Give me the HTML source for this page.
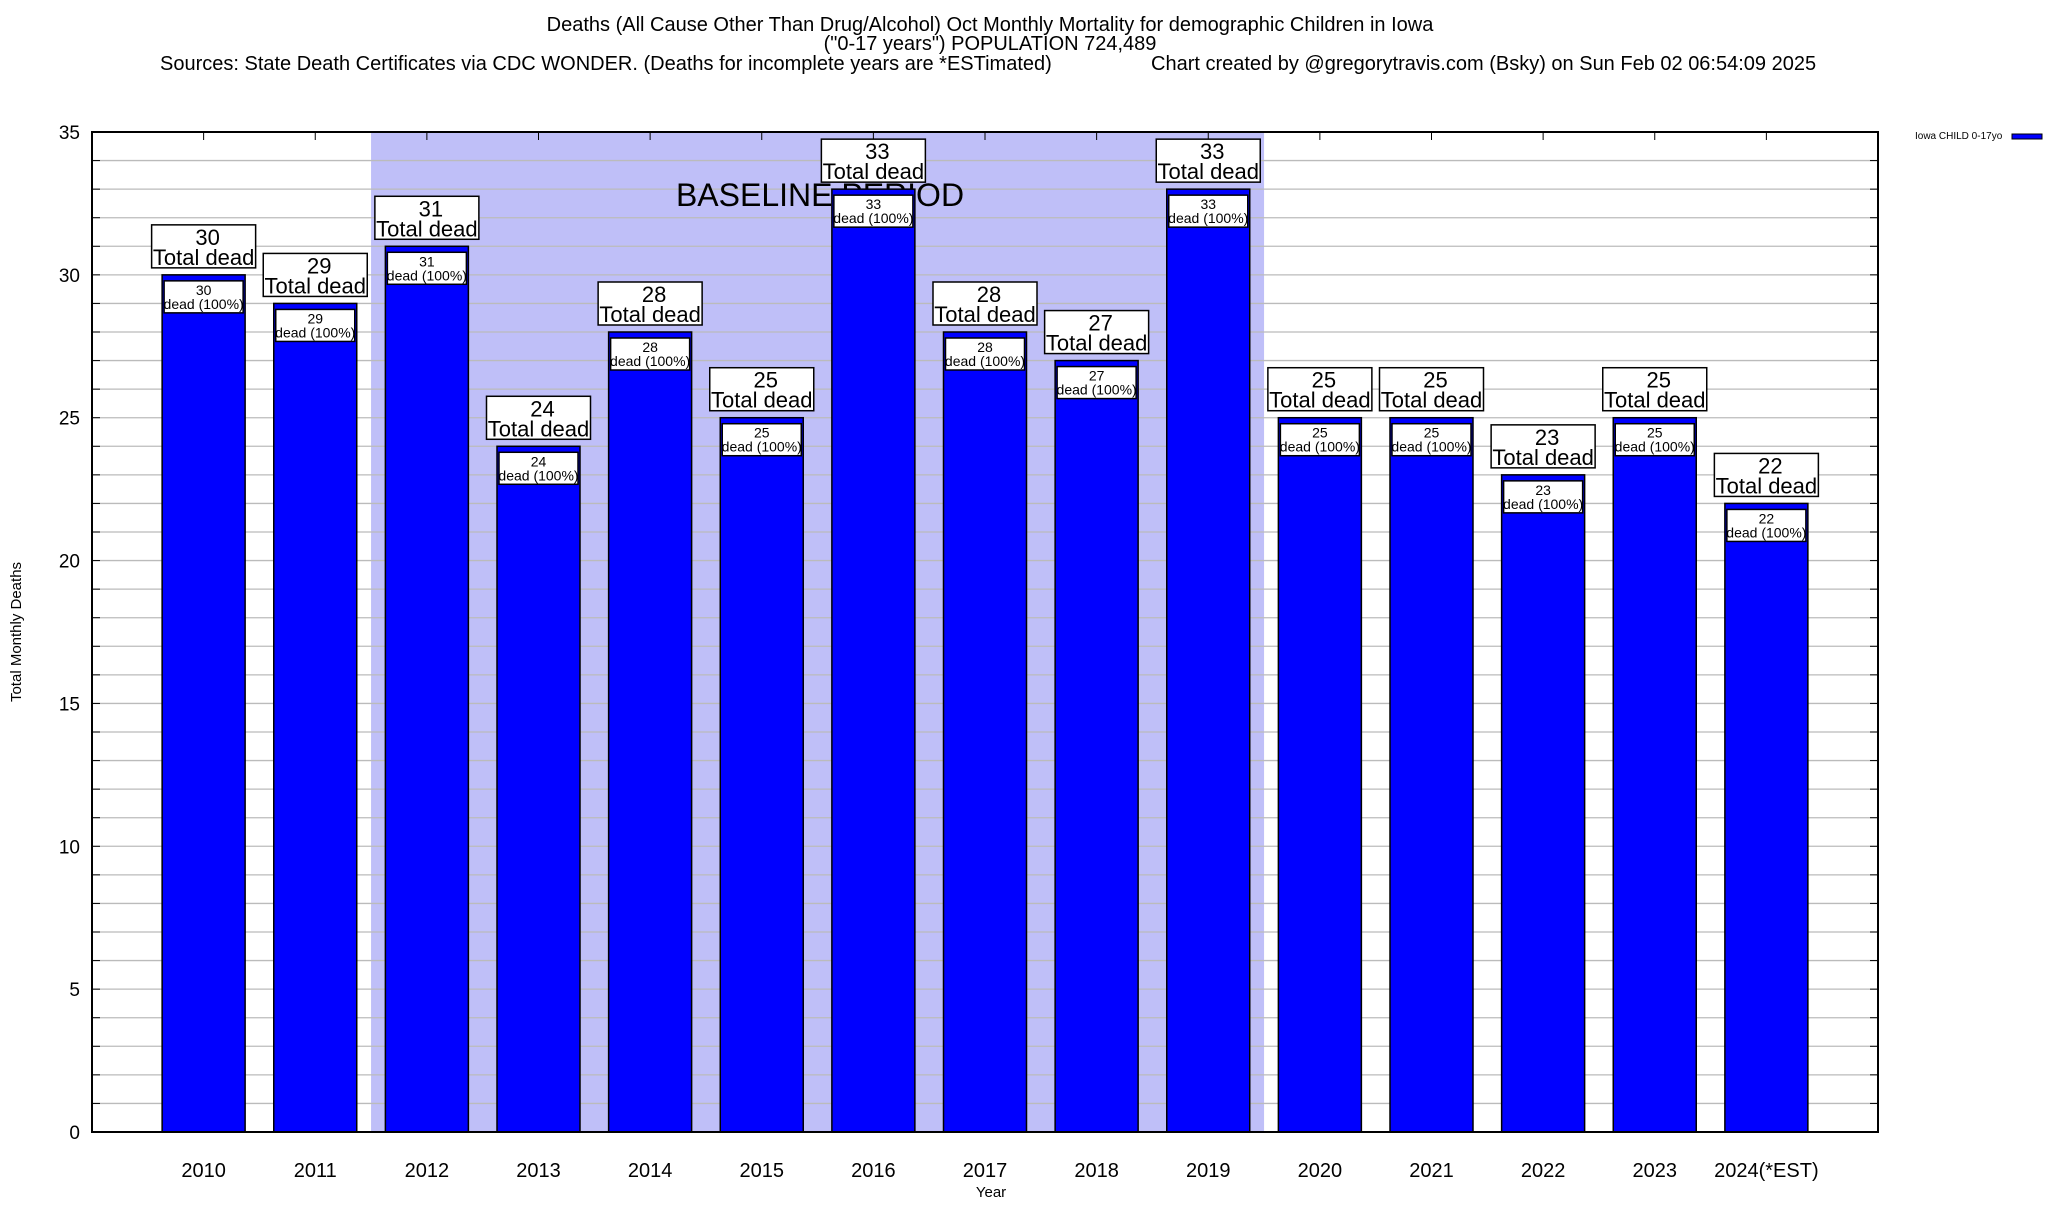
<!DOCTYPE html>
<html><head><meta charset="utf-8"><style>
body{margin:0;background:#fff}
svg text{font-family:"Liberation Sans",sans-serif;fill:#000}
</style></head><body>
<svg id="chart" width="2048" height="1200" xmlns="http://www.w3.org/2000/svg">
<text x="990" y="31" font-size="20" text-anchor="middle">Deaths (All Cause Other Than Drug/Alcohol) Oct Monthly Mortality for demographic Children in Iowa</text>
<text x="990" y="50" font-size="20" text-anchor="middle">("0-17 years") POPULATION 724,489</text>
<text x="160" y="70" font-size="20">Sources: State Death Certificates via CDC WONDER. (Deaths for incomplete years are *ESTimated)</text>
<text x="1151" y="70" font-size="20">Chart created by @gregorytravis.com (Bsky) on Sun Feb 02 06:54:09 2025</text>
<g id="plot"></g>
<text x="1915" y="139" font-size="10">Iowa CHILD 0-17yo</text>
<rect x="2012" y="134" width="30" height="5" fill="#0000ff" stroke="#000" stroke-width="1"/>
<text x="991" y="1197" font-size="15" text-anchor="middle">Year</text>
<text transform="translate(21,632) rotate(-90)" font-size="15" text-anchor="middle">Total Monthly Deaths</text>
</svg>
<script>
const categories=["2010","2011","2012","2013","2014","2015","2016","2017","2018","2019","2020","2021","2022","2023","2024(*EST)"];
const deaths=[30,29,31,24,28,25,33,28,27,33,25,25,23,25,22];
const yTicks=[0,5,10,15,20,25,30,35];
const baseline=[1.5,9.5];
const L=92,R=1878,T=132,B=1132;
const x=i=>L+(i+1)*(R-L)/16;
const y=v=>B-v*(B-T)/35;
const NS="http://www.w3.org/2000/svg";
const g=document.getElementById('plot');
function mk(t,a,p){const e=document.createElementNS(NS,t);for(const k in a)e.setAttribute(k,a[k]);(p||g).appendChild(e);return e;}
let e=mk('rect',{x:x(baseline[0]),y:T,width:x(baseline[1])-x(baseline[0]),height:B-T,fill:'#bfbff8'});


for(let v=1;v<35;v++){
 e=mk('line',{x1:L,x2:R,y1:y(v),y2:y(v),stroke:'#bbb','stroke-width':1.3});
 
 
 mk('line',{x1:L,x2:L+8,y1:y(v),y2:y(v),stroke:'#000'});
 mk('line',{x1:R-8,x2:R,y1:y(v),y2:y(v),stroke:'#000'});
}
e=mk('text',{x:820,y:206,'font-size':32,'text-anchor':'middle'});
e.textContent='BASELINE PERIOD';


yTicks.forEach(v=>{
 e=mk('text',{x:80,y:y(v)+7,'font-size':19,'text-anchor':'end'});
 e.textContent=v;
 
 
});
const bw=83;
categories.forEach((c,i)=>{
 const cx=x(i),v=deaths[i],top=y(v);
 mk('line',{x1:cx,x2:cx,y1:T,y2:T+8,stroke:'#000'});
 e=mk('rect',{x:cx-bw/2,y:top,width:bw,height:B-top,fill:'#0000ff',stroke:'#000','stroke-width':1.5});
 
 
 e=mk('rect',{x:cx-bw/2+2,y:top+6,width:bw-4,height:32,fill:'#fff',stroke:'#000','stroke-width':1.5});
 
 
 e=mk('text',{x:cx,y:top+20,'font-size':14,'text-anchor':'middle'});e.textContent=v;
 
 
 e=mk('text',{x:cx,y:top+34,'font-size':14,'text-anchor':'middle'});e.textContent='dead (100%)';
 
 
 e=mk('rect',{x:cx-52,y:top-50,width:104,height:43,fill:'#fff',stroke:'#000','stroke-width':1.5});
 
 
 e=mk('text',{x:cx+4,y:top-30,'font-size':22,'text-anchor':'middle'});e.textContent=v;
 
 
 e=mk('text',{x:cx,y:top-10,'font-size':22,'text-anchor':'middle'});e.textContent='Total dead';
 
 
 e=mk('text',{x:cx,y:1177,'font-size':20,'text-anchor':'middle'});e.textContent=c;
 
 
});
e=mk('rect',{x:L,y:T,width:R-L,height:B-T,fill:'none',stroke:'#000','stroke-width':2});


</script>
</body></html>
